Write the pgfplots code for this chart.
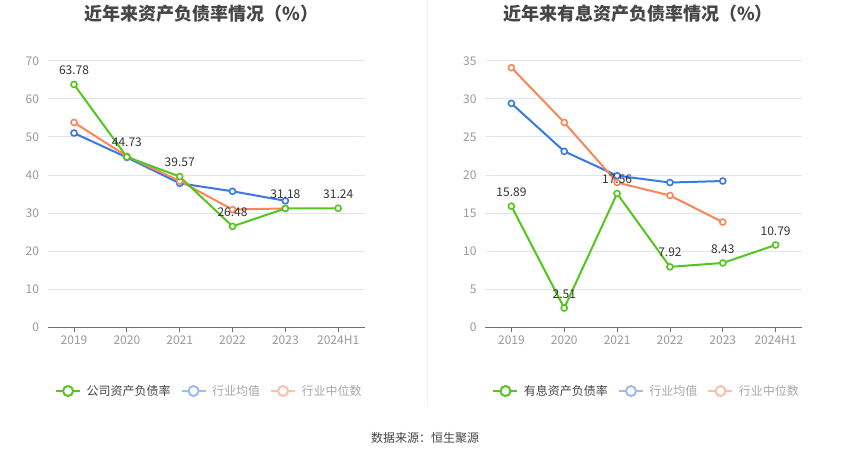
\documentclass[border=0pt]{standalone}
\usepackage{pgfplots}
\pgfplotsset{compat=1.18}
\usepackage{fontspec}
\setmainfont{Noto Sans CJK SC}
\definecolor{cgreen}{HTML}{55C51F}
\definecolor{cblue}{HTML}{3A78E6}
\definecolor{corange}{HTML}{F7875A}
\definecolor{lblue}{HTML}{9DBBF3}
\definecolor{lorange}{HTML}{FBC0A8}
\definecolor{gridc}{HTML}{E0E6F1}
\definecolor{axisc}{HTML}{6E7079}
\definecolor{tickc}{HTML}{9A9A9A}
\definecolor{titlec}{HTML}{464646}
\definecolor{labelc}{HTML}{333333}
\definecolor{legc}{HTML}{444444}
\definecolor{legg}{HTML}{A8A8A8}
\pgfplotsset{
  mystyle/.style={
    scale only axis, width=317pt, height=266.3pt,
    xmin=-0.5, xmax=5.5, ymin=0,
    xtick={0,1,2,3,4,5},
    xticklabels={2019,2020,2021,2022,2023,2024H1},
    axis x line*=bottom, axis y line*=left,
    y axis line style={draw=none},
    x axis line style={-, color=axisc, line width=0.8pt},
    ymajorgrids, grid style={color=gridc, line width=0.8pt},
    ytick style={draw=none},
    xtick style={color=axisc, line width=0.8pt},
    tick align=outside, major tick length=5pt,
    ticklabel style={font=\fontsize{12}{14}\selectfont, color=tickc},
    yticklabel style={xshift=0pt},
    xticklabel style={yshift=-0.5pt},
    /pgf/number format/assume math mode=true,
    clip=false,
    every axis plot/.append style={line width=2pt, mark=*, mark size=3pt, mark options={fill=white, line width=1.6pt}},
    legend columns=3,
    legend style={draw=none, fill=none, inner sep=0pt, anchor=west,
      font=\fontsize{12}{14}\selectfont,
      nodes={inner sep=0pt},
      /tikz/every odd column/.append style={column sep=5.5pt},
      /tikz/every even column/.append style={column sep=10pt}},
  },
  limg/.style={legend image code/.code={
      \draw[line width=2pt,#1] (0pt,0pt)--(24pt,0pt);
      \draw[line width=2pt,#1,fill=white] (12pt,0pt) circle (5pt);}},
  lab/.style={nodes near coords, point meta=explicit symbolic,
    every node near coord/.append style={font=\fontsize{12}{14}\selectfont, color=labelc, anchor=south, inner sep=0pt, yshift=9pt}},
}
\begin{document}
\begin{tikzpicture}
\fill[white] (0pt,0pt) rectangle (850pt,-459pt);
\draw[color=gridc!60, line width=0.8pt] (427pt,0pt) -- (427pt,-407pt);
\node[font=\bfseries\fontsize{18}{21}\selectfont, color=titlec] at (201.5pt,-13.5pt) {近年来资产负债率情况（\%）};
\node[font=\bfseries\fontsize{18}{21}\selectfont, color=titlec] at (638pt,-13.5pt) {近年来有息资产负债率情况（\%）};
\node[font=\fontsize{12}{14}\selectfont, color=legc] at (425pt,-438pt) {数据来源：恒生聚源};

\begin{axis}[mystyle, at={(47.6pt,-326.7pt)}, anchor=south west, ymax=70, ytick={0,10,...,70},
  legend style={at={(0.023,-0.24)}}]
\addplot[color=cblue, forget plot] coordinates {(0,51.0) (1,44.6) (2,37.8) (3,35.7) (4,33.2)};
\addplot[color=corange, forget plot] coordinates {(0,53.8) (1,44.9) (2,38.4) (3,30.9) (4,31.2)};
\addplot[color=cgreen, forget plot, lab] coordinates {(0,63.78)[63.78] (1,44.73)[44.73] (2,39.57)[39.57] (3,26.48)[26.48] (4,31.18)[31.18] (5,31.24)[31.24]};
\addlegendimage{limg={cgreen}}
\addlegendentry{\textcolor{legc}{公司资产负债率}}
\addlegendimage{limg={lblue}}
\addlegendentry{\textcolor{legg}{行业均值}}
\addlegendimage{limg={lorange}}
\addlegendentry{\textcolor{legg}{行业中位数}}
\end{axis}

\begin{axis}[mystyle, at={(485pt,-326.7pt)}, anchor=south west, ymax=35, ytick={0,5,...,35},
  legend style={at={(0.023,-0.24)}}]
\addplot[color=cblue, forget plot] coordinates {(0,29.4) (1,23.1) (2,19.9) (3,19.0) (4,19.2)};
\addplot[color=corange, forget plot] coordinates {(0,34.1) (1,26.9) (2,19.0) (3,17.3) (4,13.8)};
\addplot[color=cgreen, forget plot, lab] coordinates {(0,15.89)[15.89] (1,2.51)[2.51] (2,17.56)[17.56] (3,7.92)[7.92] (4,8.43)[8.43] (5,10.79)[10.79]};
\addlegendimage{limg={cgreen}}
\addlegendentry{\textcolor{legc}{有息资产负债率}}
\addlegendimage{limg={lblue}}
\addlegendentry{\textcolor{legg}{行业均值}}
\addlegendimage{limg={lorange}}
\addlegendentry{\textcolor{legg}{行业中位数}}
\end{axis}
\end{tikzpicture}
\end{document}
